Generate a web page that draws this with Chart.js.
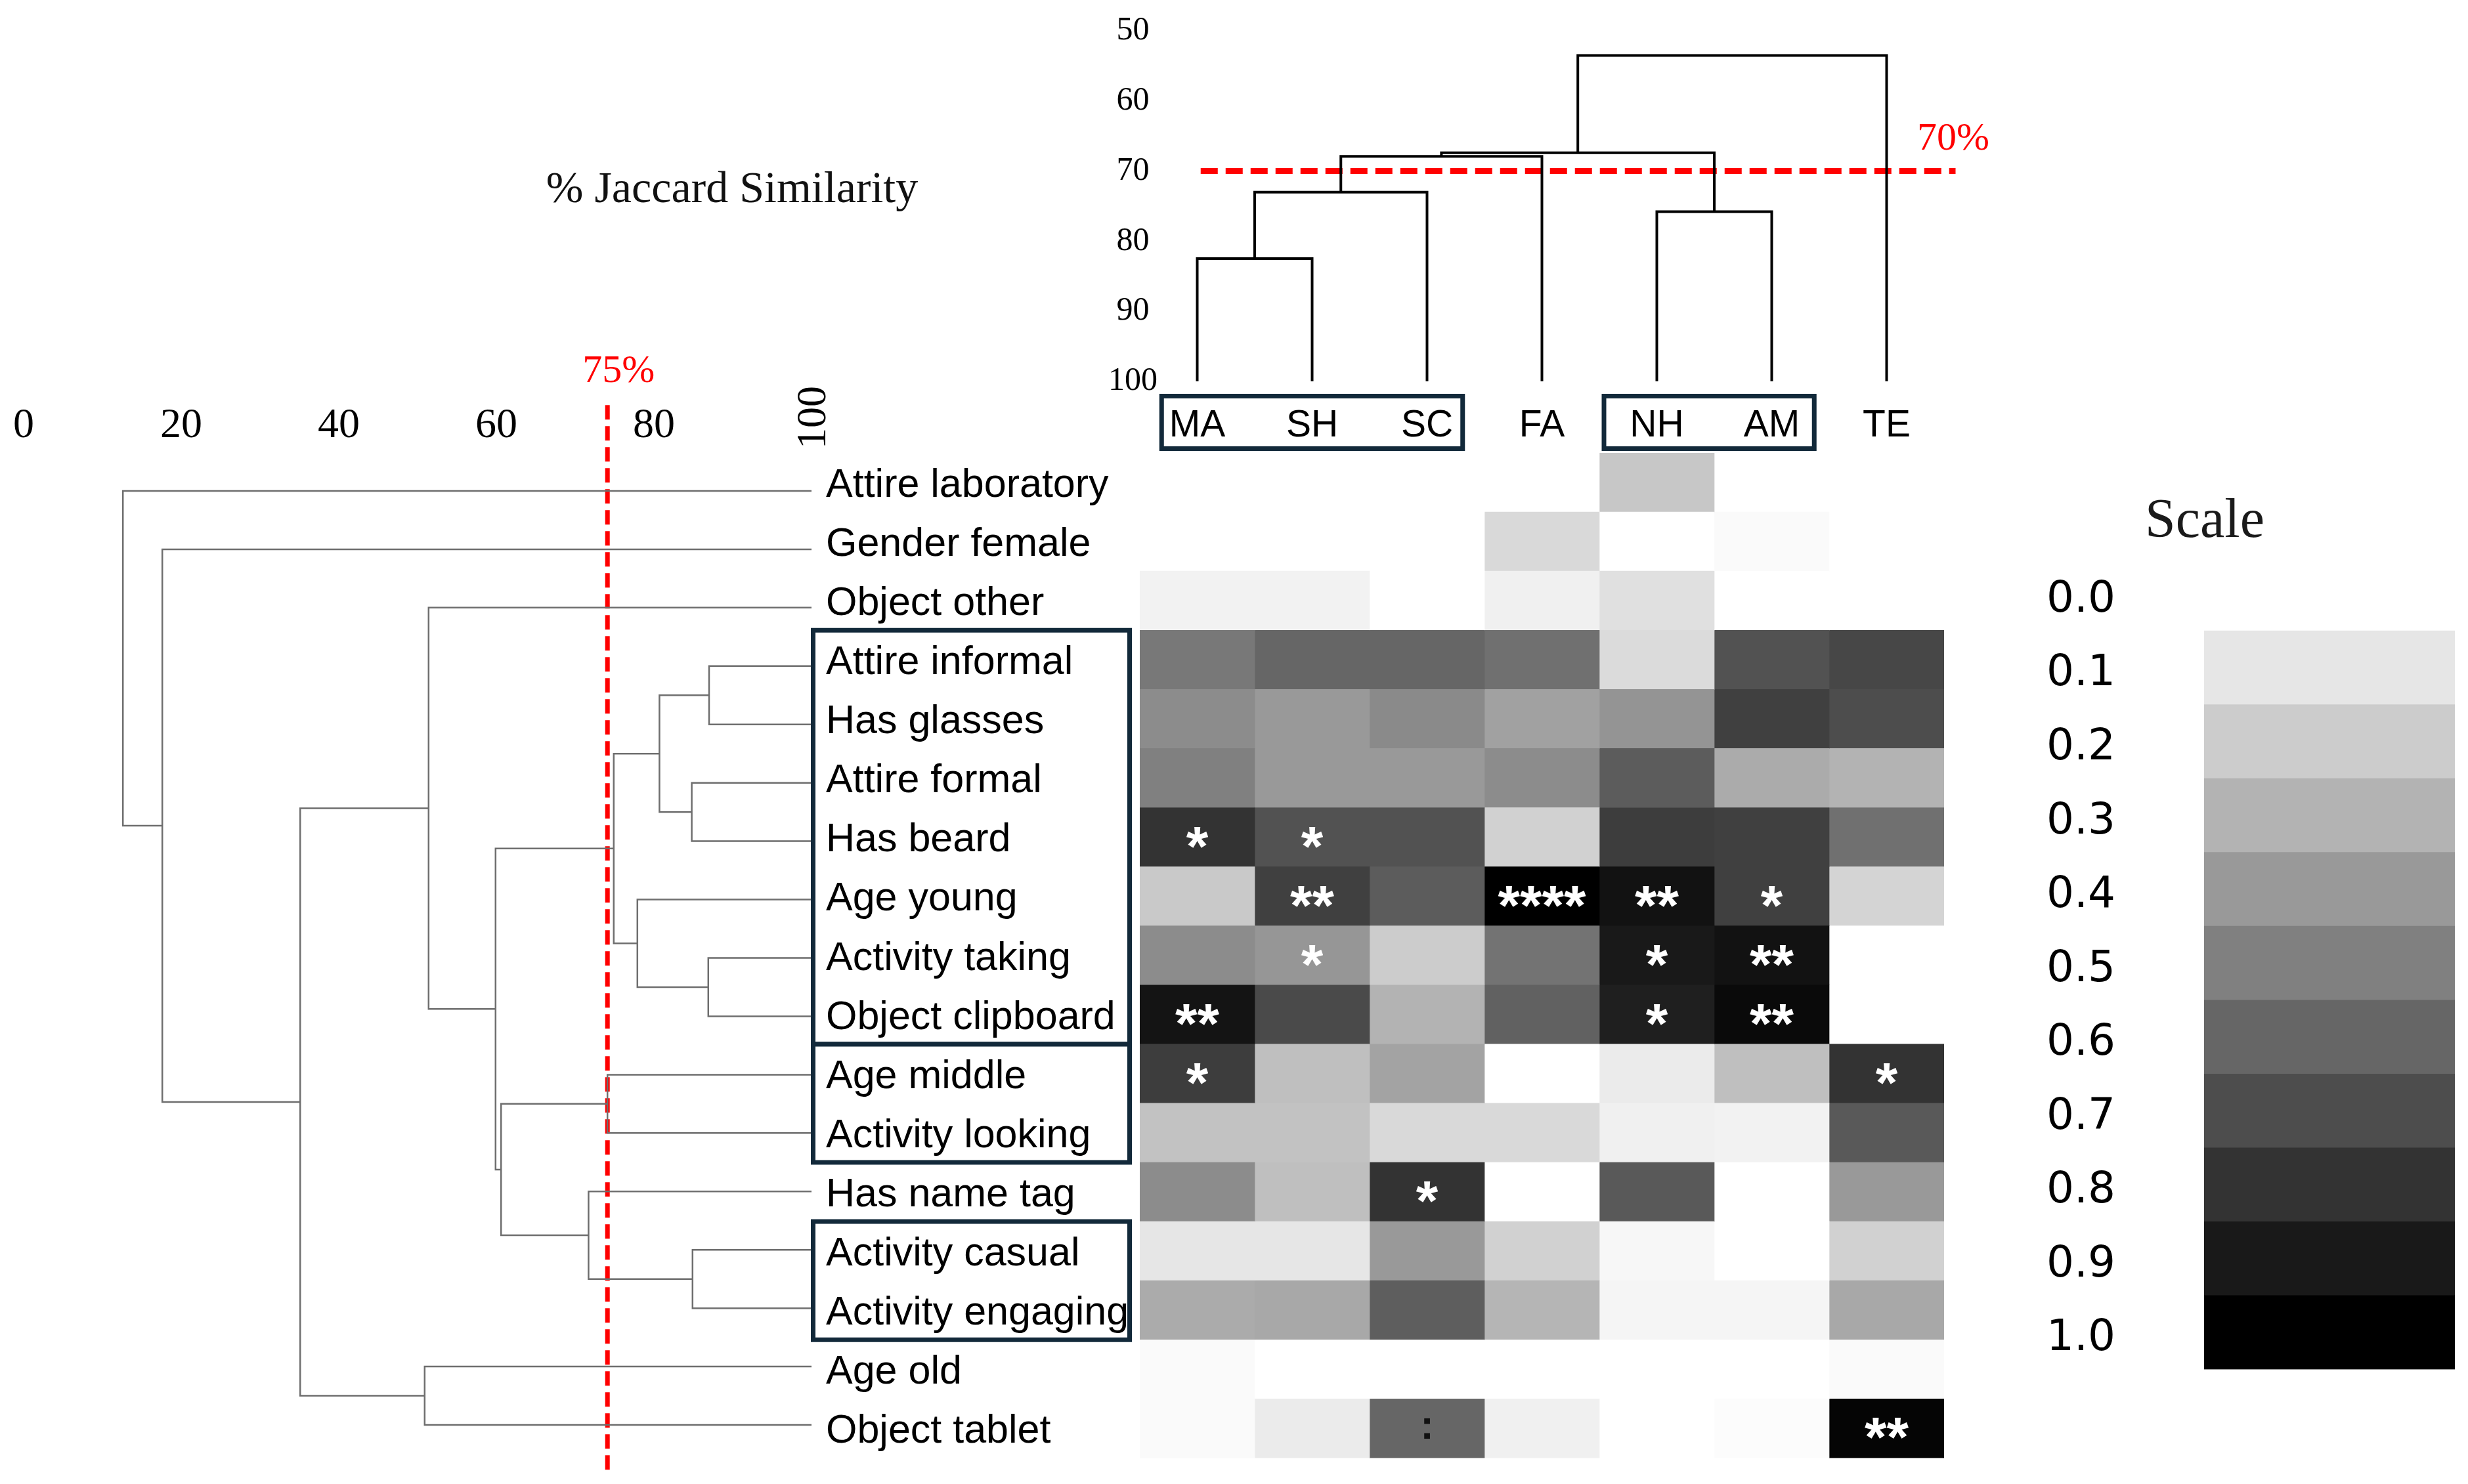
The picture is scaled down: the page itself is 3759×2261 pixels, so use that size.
<!DOCTYPE html>
<html><head><meta charset="utf-8">
<script src="https://cdn.jsdelivr.net/npm/chart.js@4.4.1/dist/chart.umd.min.js"></script>
<style>
html,body{margin:0;padding:0;background:#fff;}
#wrap{position:relative;width:3759px;height:2261px;background:#fff;overflow:hidden;}
#wrap canvas{position:absolute;left:0;top:0;}
</style></head><body>
<div id="wrap">
<canvas id="leftDendro" width="3759" height="2261"></canvas>
<canvas id="topDendro" width="3759" height="2261"></canvas>
<canvas id="heat" width="3759" height="2261"></canvas>
<canvas id="scaleBar" width="3759" height="2261"></canvas>
</div>
<script>
// ---------------- DATA ----------------
const columns = ['MA','SH','SC','FA','NH','AM','TE'];
const rows = ['Attire laboratory','Gender female','Object other','Attire informal','Has glasses',
  'Attire formal','Has beard','Age young','Activity taking','Object clipboard','Age middle',
  'Activity looking','Has name tag','Activity casual','Activity engaging','Age old','Object tablet'];

// heatmap values per column (row order as above), 0 = white, 1 = black
const MA = [0, 0, 0.05, 0.53, 0.45, 0.50, 0.80, 0.21, 0.45, 0.92, 0.76, 0.24, 0.45, 0.10, 0.33, 0.02, 0.02];
const SH = [0, 0, 0.05, 0.60, 0.40, 0.40, 0.68, 0.75, 0.41, 0.71, 0.25, 0.24, 0.25, 0.10, 0.34, 0, 0.08];
const SC = [0, 0, 0, 0.60, 0.46, 0.40, 0.68, 0.64, 0.20, 0.30, 0.36, 0.15, 0.80, 0.40, 0.63, 0, 0.60];
const FA = [0, 0.15, 0.06, 0.56, 0.37, 0.45, 0.18, 1.00, 0.55, 0.62, 0, 0.15, 0, 0.18, 0.29, 0, 0.06];
const NH = [0.22, 0, 0.12, 0.14, 0.42, 0.64, 0.76, 0.93, 0.90, 0.88, 0.08, 0.06, 0.65, 0.03, 0.04, 0, 0];
const AM = [0, 0.02, 0, 0.68, 0.75, 0.33, 0.75, 0.75, 0.93, 0.96, 0.25, 0.05, 0, 0, 0.04, 0, 0.01];
const TE = [0, 0, 0, 0.72, 0.70, 0.30, 0.56, 0.17, 0, 0, 0.80, 0.65, 0.40, 0.18, 0.34, 0.02, 0.98];
const heatValues = [MA, SH, SC, FA, NH, AM, TE];

// significance marks [row, column, mark]
const significance = [
  ['Has beard','MA','*'], ['Has beard','SH','*'],
  ['Age young','SH','**'], ['Age young','FA','****'], ['Age young','NH','**'], ['Age young','AM','*'],
  ['Activity taking','SH','*'], ['Activity taking','NH','*'], ['Activity taking','AM','**'],
  ['Object clipboard','MA','**'], ['Object clipboard','NH','*'], ['Object clipboard','AM','**'],
  ['Age middle','MA','*'], ['Age middle','TE','*'],
  ['Has name tag','SC','*'],
  ['Object tablet','SC',':'], ['Object tablet','TE','**']
];

// dendrogram linkages: [childA, childB, % similarity]; index >= n refers to earlier merge
const topLinkage = [
  [0, 1, 82.5],   // 7  MA+SH
  [7, 2, 73.0],   // 8  +SC
  [8, 3, 67.9],   // 9  +FA
  [4, 5, 75.8],   // 10 NH+AM
  [9, 10, 67.4],  // 11
  [11, 6, 53.5]   // 12 +TE
];
const leftLinkage = [
  [3, 4, 87.0],   // 17
  [5, 6, 84.8],   // 18
  [17, 18, 80.7], // 19
  [8, 9, 86.9],   // 20
  [7, 20, 77.9],  // 21
  [19, 21, 74.9], // 22
  [10, 11, 74.1], // 23
  [13, 14, 84.9], // 24
  [12, 24, 71.7], // 25
  [23, 25, 60.6], // 26
  [22, 26, 59.9], // 27
  [2, 27, 51.4],  // 28
  [15, 16, 50.9], // 29
  [28, 29, 35.1], // 30
  [1, 30, 17.6],  // 31
  [0, 31, 12.6]   // 32
];
const topTicks = [50, 60, 70, 80, 90, 100];
const leftTicks = [0, 20, 40, 60, 80, 100];
const topCut = 70;
const leftCut = 74.1;
const leftCutLabel = '75%';
const scaleLabels = ['0.0','0.1','0.2','0.3','0.4','0.5','0.6','0.7','0.8','0.9','1.0'];
const scaleLevels = [0, 0.1, 0.2, 0.3, 0.4, 0.5, 0.6, 0.7, 0.8, 0.9, 1.0];
const rowGroups = [['Attire informal','Object clipboard'], ['Age middle','Activity looking'], ['Activity casual','Activity engaging']];
const colGroups = [['MA','SC'], ['NH','AM']];

// ---------------- HELPERS ----------------
const gray = v => { const g = Math.round(255 * (1 - v)); return `rgb(${g},${g},${g})`; };
const SERIF = '"Liberation Serif", "DejaVu Serif", serif';
const SANS = '"Liberation Sans", Arial, sans-serif';
const BOX = '#12293a';

function buildLinks(linkage, n, leafH) {
  const pos = Array.from({length: n}, (_, i) => i);
  const h = Array(n).fill(leafH);
  const links = [];
  linkage.forEach(([a, b, height]) => {
    links.push([[pos[a], h[a]], [pos[a], height], [pos[b], height], [pos[b], h[b]]]);
    pos.push((pos[a] + pos[b]) / 2);
    h.push(height);
  });
  return links;
}

Chart.defaults.animation = false;
Chart.defaults.events = [];
Chart.defaults.plugins.legend.display = false;
Chart.defaults.plugins.tooltip.enabled = false;
Chart.defaults.color = '#000';

// ---------------- HEATMAP ----------------
const heatDecor = {
  id: 'heatDecor',
  afterDatasetsDraw(chart) {
    const {ctx, chartArea} = chart;
    const x = chart.scales.x, y = chart.scales.y;
    ctx.save();
    ctx.textAlign = 'center';
    ctx.textBaseline = 'alphabetic';
    significance.forEach(([r, c, txt]) => {
      const cx = x.getPixelForValue(columns.indexOf(c));
      const cy = y.getPixelForValue(rows.indexOf(r));
      const isDot = txt === ':';
      ctx.font = isDot ? `bold 62px ${SANS}` : `bold 86px ${SANS}`;
      ctx.fillStyle = isDot ? '#111' : '#fff';
      const m = ctx.measureText(txt);
      ctx.fillText(txt, cx, cy + (m.actualBoundingBoxAscent - m.actualBoundingBoxDescent) / 2);
    });
    ctx.strokeStyle = BOX;
    ctx.lineWidth = 7;
    rowGroups.forEach(([a, b]) => {
      const y1 = y.getPixelForValue(rows.indexOf(a) - 0.5);
      const y2 = y.getPixelForValue(rows.indexOf(b) + 0.5);
      const x1 = chartArea.left - 497.5, x2 = chartArea.left - 15.5;
      ctx.strokeRect(x1, y1, x2 - x1, y2 - y1);
    });
    const pads = [[0.33, 0.33], [0.48, 0.39]];
    colGroups.forEach(([a, b], i) => {
      const x1 = x.getPixelForValue(columns.indexOf(a) - pads[i][0]) + 3.5;
      const x2 = x.getPixelForValue(columns.indexOf(b) + pads[i][1]) - 3.5;
      const y1 = chartArea.top - 86.5, y2 = chartArea.top - 6.5;
      ctx.strokeRect(x1, y1, x2 - x1, y2 - y1);
    });
    ctx.restore();
  }
};

new Chart(document.getElementById('heat'), {
  type: 'bar',
  data: {
    labels: rows,
    datasets: columns.map((c, ci) => ({
      label: c,
      data: rows.map(() => [ci - 0.5, ci + 0.5]),
      backgroundColor: heatValues[ci].map(gray),
      borderWidth: 0,
      grouped: false,
      barPercentage: 1,
      categoryPercentage: 1
    }))
  },
  options: {
    indexAxis: 'y',
    responsive: false,
    devicePixelRatio: 1,
    layout: {padding: {left: 1258, right: 798, top: 600, bottom: 25}},
    scales: {
      x: {
        type: 'linear', position: 'top', min: -0.5, max: 6.5,
        grid: {display: false, drawTicks: false}, border: {display: false},
        afterBuildTicks: s => { s.ticks = columns.map((_, i) => ({value: i})); },
        afterFit: s => { s.height = 90; },
        ticks: {
          autoSkip: false, maxRotation: 0, padding: 7, color: '#000',
          font: {family: SANS, size: 57},
          callback: v => columns[v] ?? ''
        }
      },
      y: {
        type: 'category', position: 'left',
        grid: {display: false, drawTicks: false}, border: {display: false},
        afterFit: s => { s.width = 478; },
        ticks: {autoSkip: false, crossAlign: 'far', labelOffset: 5, color: '#000', font: {family: SANS, size: 61}}
      }
    }
  },
  plugins: [heatDecor]
});

// ---------------- TOP DENDROGRAM ----------------
const topLinks = buildLinks(topLinkage, columns.length, 100);
const topDecor = {
  id: 'topDecor',
  afterDraw(chart) {
    const {ctx} = chart; const x = chart.scales.x, y = chart.scales.y;
    ctx.save();
    ctx.fillStyle = '#ff0000';
    ctx.font = `60px ${SERIF}`;
    ctx.textAlign = 'center'; ctx.textBaseline = 'middle';
    ctx.fillText(topCut + '%', x.getPixelForValue(6.5) + 14, y.getPixelForValue(topCut) - 48);
    ctx.restore();
  }
};
new Chart(document.getElementById('topDendro'), {
  type: 'scatter',
  data: {
    datasets: topLinks.map(l => ({
      data: l.map(([px, h]) => ({x: px, y: h})),
      showLine: true, pointRadius: 0, borderColor: '#000', borderWidth: 4,
      borderJoinStyle: 'miter', clip: false
    })).concat([{
      data: [{x: 0.03, y: topCut}, {x: 6.6, y: topCut}],
      showLine: true, pointRadius: 0, borderColor: '#ff0000', borderWidth: 9,
      borderDash: [26, 12], clip: false
    }])
  },
  options: {
    responsive: false, devicePixelRatio: 1,
    layout: {padding: {left: 1600, right: 798, top: 47, bottom: 1680}},
    scales: {
      x: {type: 'linear', min: -0.5, max: 6.5, display: false},
      y: {
        type: 'linear', position: 'left', min: 50, max: 100, reverse: true,
        grid: {display: false, drawTicks: false}, border: {display: false},
        afterBuildTicks: s => { s.ticks = topTicks.map(v => ({value: v})); },
        afterFit: s => { s.width = 136; },
        ticks: {mirror: true, crossAlign: 'center', padding: -48, color: '#000', font: {family: SERIF, size: 50}}
      }
    }
  },
  plugins: [topDecor]
});

// ---------------- LEFT DENDROGRAM ----------------
const leftLinks = buildLinks(leftLinkage, rows.length, 100);
const leftDecor = {
  id: 'leftDecor',
  afterDraw(chart) {
    const {ctx} = chart; const x = chart.scales.x;
    ctx.save();
    ctx.textAlign = 'center'; ctx.textBaseline = 'middle';
    ctx.fillStyle = '#ff0000';
    ctx.font = `60px ${SERIF}`;
    ctx.fillText(leftCutLabel, x.getPixelForValue(leftCut) + 17, 566);
    ctx.fillStyle = '#111';
    ctx.font = `68px ${SERIF}`;
    ctx.fillText('% Jaccard Similarity', 1115, 290);
    ctx.fillStyle = '#000';
    ctx.font = `64px ${SERIF}`;
    ctx.translate(x.getPixelForValue(100) + 4, 636);
    ctx.rotate(-Math.PI / 2);
    ctx.fillText(String(leftTicks[leftTicks.length - 1]), 0, 0);
    ctx.restore();
  }
};
new Chart(document.getElementById('leftDendro'), {
  type: 'scatter',
  data: {
    datasets: leftLinks.map(l => ({
      data: l.map(([py, h]) => ({x: h, y: py})),
      showLine: true, pointRadius: 0, borderColor: '#6e6e6e', borderWidth: 2.5,
      borderJoinStyle: 'miter', clip: false
    })).concat([{
      data: [{x: leftCut, y: -1.47}, {x: leftCut, y: 16.77}],
      showLine: true, pointRadius: 0, borderColor: '#ff0000', borderWidth: 7,
      borderDash: [22, 10], clip: false
    }])
  },
  options: {
    responsive: false, devicePixelRatio: 1,
    layout: {padding: {left: 36, right: 2523, top: 600, bottom: 45.5}},
    scales: {
      x: {
        type: 'linear', position: 'top', min: 0, max: 100,
        grid: {display: false, drawTicks: false}, border: {display: false},
        afterBuildTicks: s => { s.ticks = leftTicks.map(v => ({value: v})); },
        afterFit: s => { s.height = 103.5; },
        ticks: {
          autoSkip: false, maxRotation: 0, padding: 16, color: '#000',
          font: {family: SERIF, size: 64},
          callback: v => (v === 100 ? '' : String(v))
        }
      },
      y: {type: 'linear', min: -0.5, max: rows.length - 0.5, reverse: true, display: false}
    }
  },
  plugins: [leftDecor]
});

// ---------------- SCALE LEGEND ----------------
const scaleDecor = {
  id: 'scaleDecor',
  afterDraw(chart) {
    const {ctx, chartArea} = chart;
    ctx.save();
    ctx.fillStyle = '#1a1a1a';
    ctx.font = `84px ${SERIF}`;
    ctx.textAlign = 'center'; ctx.textBaseline = 'middle';
    ctx.fillText('Scale', chartArea.left + 1, 796);
    ctx.restore();
  }
};
new Chart(document.getElementById('scaleBar'), {
  type: 'bar',
  data: {
    labels: scaleLabels,
    datasets: [{
      data: scaleLevels.map(() => [0, 1]),
      backgroundColor: scaleLevels.map(gray),
      borderWidth: 0, barPercentage: 1, categoryPercentage: 1
    }]
  },
  options: {
    indexAxis: 'y', responsive: false, devicePixelRatio: 1,
    layout: {padding: {left: 3080, right: 20, top: 848.5, bottom: 164}},
    scales: {
      x: {type: 'linear', min: 0, max: 1, display: false},
      y: {
        type: 'category', position: 'left',
        grid: {display: false, drawTicks: false}, border: {display: false},
        afterFit: s => { s.width = 277; },
        ticks: {autoSkip: false, padding: 135, labelOffset: 10, color: '#000', font: {family: '"DejaVu Sans", sans-serif', size: 66}}
      }
    }
  },
  plugins: [scaleDecor]
});
</script>
</body></html>
